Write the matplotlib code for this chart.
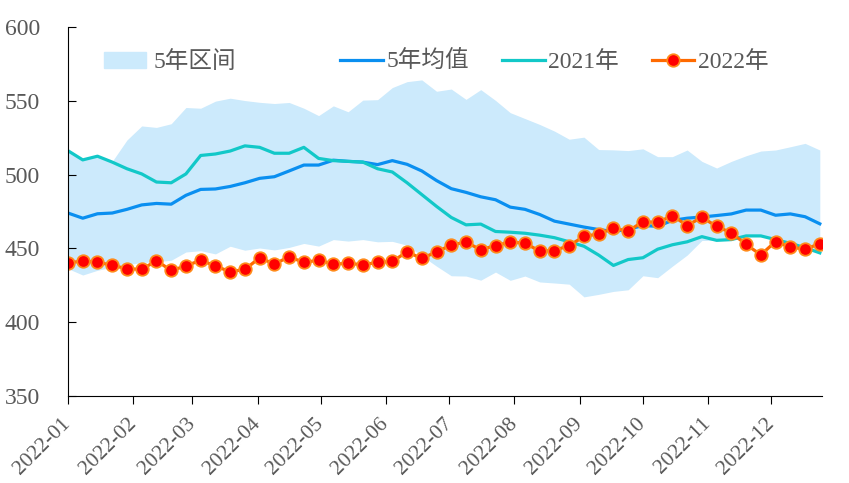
import matplotlib
matplotlib.use('Agg')
from matplotlib import pyplot as plt
import matplotlib.dates as mdates
from matplotlib.patches import Patch
from matplotlib.lines import Line2D
import pandas as pd

# weekly dates, 52 weeks of 2022
dates = pd.date_range('2022-01-01', periods=52, freq='7D')

band_upper = [516.2, 510, 512.5, 509, 523.5, 533, 532, 534.5, 545.5, 545, 549.8, 551.8, 550.2,
              549, 548.2, 548.9, 545, 540, 546.6, 542.6, 550.5, 550.8, 559, 563, 564.2, 556.5,
              558, 551, 557.6, 550.3, 542, 538, 534, 529.5, 524, 525.4, 517, 516.8, 516.3,
              517.5, 512.2, 512.2, 516.7, 509, 504.5, 509, 512.8, 516, 516.7, 518.9, 521.2, 516.7]
band_lower = [436.3, 432, 435.2, 437.4, 439, 440.5, 441, 442, 447.6, 448.5, 446.3, 451.5, 448.8,
              450.3, 449, 450.7, 453.4, 451.6, 456, 455, 456, 454.5, 454.8, 452.2, 445, 438,
              431.5, 431.3, 428.5, 434, 428.4, 431.3, 427.3, 426.6, 425.8, 417.2, 418.9, 420.9,
              422, 431.5, 430.2, 438, 445.5, 455.4, 455.5, 456, 458.5, 458.5, 456, 453.5, 450.5, 447]
mean_5y = [474, 470.5, 473.5, 474, 476.5, 479.5, 480.5, 480, 486, 490, 490.3, 492, 494.5,
           497.5, 498.6, 502.5, 506.5, 506.5, 509.8, 509, 508.5, 506.8, 509.5, 507, 502.5, 496,
           490.5, 488, 485, 483, 478, 476.5, 473, 468.5, 466.5, 464.5, 462.8, 461.5, 463,
           465.5, 465, 469, 470.5, 471.3, 472.3, 473.4, 476, 476, 472.5, 473.4, 471.5, 466.7]
y2021 = [516.2, 510, 512.5, 508.5, 504, 500.5, 495, 494.5, 500.5, 513, 514, 516, 519.5,
         518.5, 514.5, 514.5, 518.5, 511, 509.5, 509, 508.5, 504, 501.8, 494.5, 486.5, 478.5,
         471, 466, 466.5, 461.5, 461, 460.3, 459, 457.3, 454.5, 451.5, 445.5, 438.5, 442.5,
         443.7, 449.5, 452.5, 454.5, 458, 455.5, 456, 458.5, 458.5, 456, 453.5, 450.5, 447]
y2022 = [440.3, 441.4, 440.8, 438.5, 436.3, 435.8, 441.7, 435.1, 438.1, 442.1, 438.1, 434.2, 435.8,
         443.7, 439.4, 444.4, 440.5, 442.1, 439.4, 439.9, 439, 440.5, 441.2, 447.7, 443.2, 447.7,
         452.3, 454.3, 449.1, 452.0, 454.3, 453.6, 448.2, 448.6, 452.0, 458.1, 459.9, 463.7, 461.7,
         468.2, 467.6, 472.3, 465.5, 471.2, 464.9, 460.6, 452.7, 445.7, 454.7, 450.9, 449.5, 453.2]

labels = ['5年区间', '5年均值', '2021年', '2022年']
fam = ['Liberation Serif', 'Noto Sans CJK SC']
grey = '#595959'

fig = plt.figure(figsize=(8.49, 4.83), dpi=100)
ax = fig.add_axes([0.0801, 0.180, 0.888, 0.764])

ax.fill_between(dates, band_lower, band_upper, color='#cceafc', lw=0)
ax.plot(dates, mean_5y, color='#0a8ff0', lw=2.3)
ax.plot(dates, y2021, color='#12c8c8', lw=2.3)
ax.plot(dates, y2022, color='#ff6a00', lw=2.3, marker='o', ms=9,
        mfc='#ff0000', mec='#ff8a1a', mew=1.3)

ax.set_ylim(350, 600)
ax.set_yticks(range(350, 601, 50))
ax.set_xlim(dates[0], dates[-1] + pd.Timedelta(days=1))
ax.xaxis.set_major_locator(mdates.MonthLocator())
ax.xaxis.set_major_formatter(mdates.DateFormatter('%Y-%m'))

for s in ['top', 'right']:
    ax.spines[s].set_visible(False)
ax.tick_params(axis='y', direction='in', length=6, pad=20, labelsize=17, labelcolor=grey)
ax.tick_params(axis='x', direction='out', length=6, pad=12, labelsize=15.5, labelcolor=grey)
for t in ax.get_yticklabels():
    t.set_family(fam)
for t in ax.get_xticklabels():
    t.set_family(fam)
    t.set_rotation(45)
    t.set_ha('right')
    t.set_va('center')
    t.set_rotation_mode('anchor')

h_band = Patch(color='#cceafc')
h_mean = Line2D([], [], color='#0a8ff0', lw=2.3)
h_21 = Line2D([], [], color='#12c8c8', lw=2.3)
h_22 = Line2D([], [], color='#ff6a00', lw=2.3, marker='o', ms=9, mfc='#ff0000', mec='#ff8a1a', mew=1.3)

leg1 = ax.legend([h_band], labels[:1], loc='center left', bbox_to_anchor=(0.019, 0.905),
                 frameon=False, prop={'family': fam, 'size': 17}, handlelength=1.8,
                 handletextpad=0.3, labelcolor=grey)
ax.add_artist(leg1)
ax.legend([h_mean, h_21, h_22], labels[1:], loc='center left', bbox_to_anchor=(0.333, 0.905),
          ncol=3, frameon=False, prop={'family': fam, 'size': 17}, handlelength=1.8,
          handletextpad=0.15, columnspacing=1.4, labelcolor=grey)

fig.savefig('out.png', dpi=100)
